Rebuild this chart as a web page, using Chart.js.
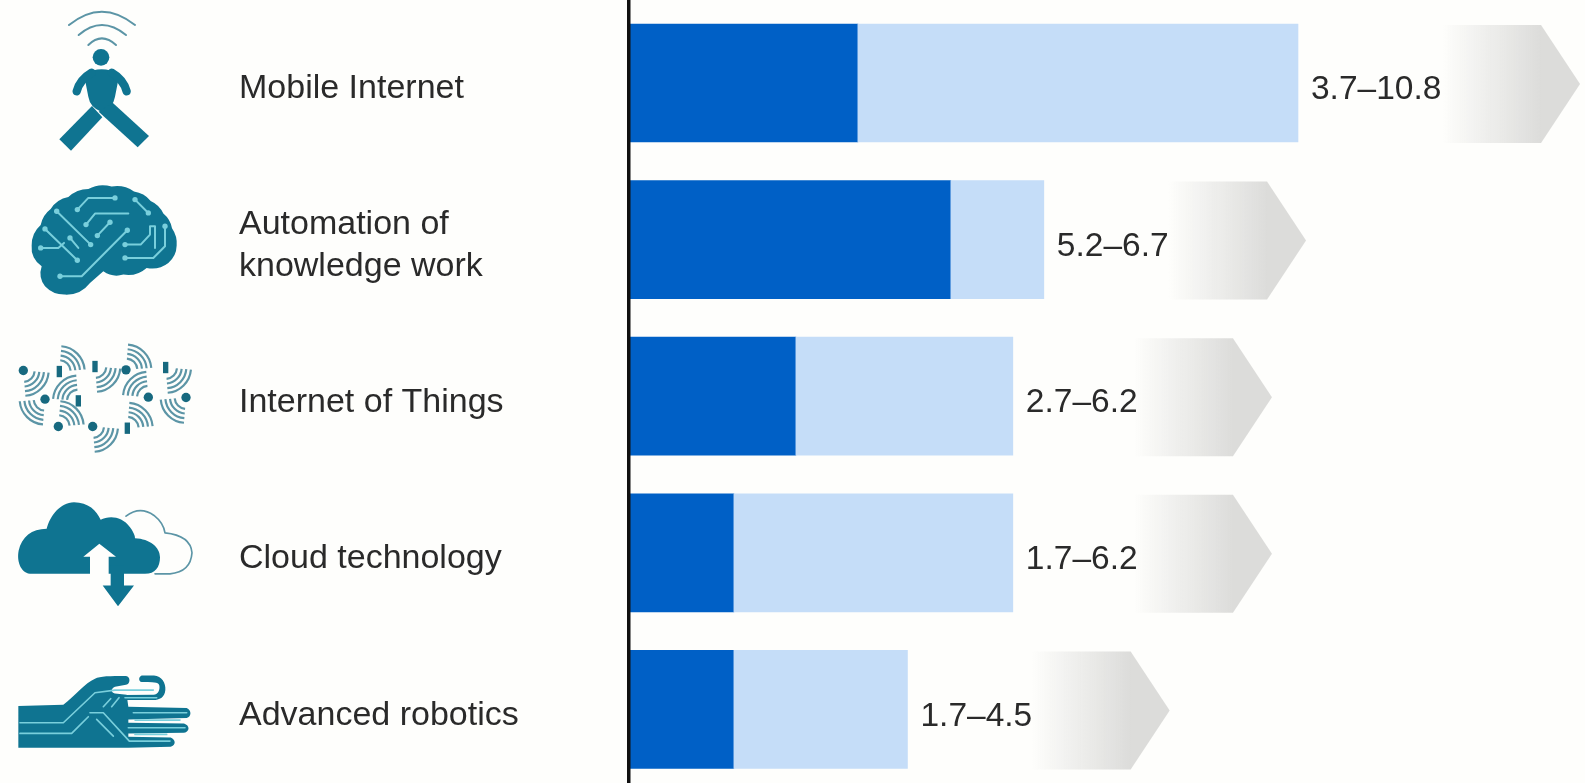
<!DOCTYPE html>
<html>
<head>
<meta charset="utf-8">
<style>
  html, body { margin: 0; padding: 0; background: #fefefc; overflow: hidden; }
  #wrap { position: relative; width: 1585px; height: 783px; }
</style>
<script src="https://cdn.jsdelivr.net/npm/chart.js@4/dist/chart.umd.min.js"></script>
</head>
<body>
<div id="wrap"><canvas id="chart" width="1585" height="783"></canvas></div>
<script>
// Estimated economic impact by technology: low and high end of each range.
const categories = ["Mobile Internet", "Automation of\nknowledge work", "Internet of Things", "Cloud technology", "Advanced robotics"];
const lowValues = [3.7, 5.2, 2.7, 1.7, 1.7];
const highValues = [10.8, 6.7, 6.2, 6.2, 4.5];
// Where each fading arrow's tip sits on the value axis.
const arrowTips = [15.35, 10.93, 10.38, 10.38, 8.73];

const TEAL = "#0f7491";
const CIRCUIT = "#79cfdc";
const THIN = "#5c95a6";
const TEXT = "#2a2a2a";
const FONT = "Liberation Sans";

// Icon artwork lives on a 3x grid; originY is the grid row of the bar's centre line.
function strokePath(ctx, d, color, width) {
  ctx.strokeStyle = color; ctx.lineWidth = width;
  ctx.lineCap = "round"; ctx.lineJoin = "round";
  ctx.stroke(new Path2D(d));
}
function fillPath(ctx, d, color) { ctx.fillStyle = color; ctx.fill(new Path2D(d)); }
function dot(ctx, x, y, r, color) {
  ctx.fillStyle = color; ctx.beginPath(); ctx.arc(x, y, r, 0, Math.PI * 2); ctx.fill();
}

function drawWalker(ctx) {
  strokePath(ctx, "M207 75Q305 -5 405 75", THIN, 6);
  strokePath(ctx, "M236 105Q305 45 378 105", THIN, 6);
  strokePath(ctx, "M265 135Q305 95 348 135", THIN, 6);
  dot(ctx, 303, 172, 25, TEAL);
  fillPath(ctx, "M252 224Q305 192 358 224L345 290Q340 322 305 336Q270 322 265 290Z", TEAL);
  strokePath(ctx, "M230 274Q240 238 275 218", TEAL, 25);
  strokePath(ctx, "M380 274Q370 238 335 218", TEAL, 25);
  fillPath(ctx, "M276 318L307 352L213 452L178 418Z", TEAL);
  fillPath(ctx, "M338 308L447 408L413 442L296 335Z", TEAL);
}

function drawBrain(ctx) {
  fillPath(ctx, "M95 738A80 80 0 0 1 122 676A80 80 0 0 1 152 628A80 80 0 0 1 205 592A90 90 0 0 1 265 568A90 90 0 0 1 335 561A90 90 0 0 1 402 576A80 80 0 0 1 452 604A75 75 0 0 1 490 642A75 75 0 0 1 516 686A80 80 0 0 1 530 738A70 70 0 0 1 505 790A80 80 0 0 1 440 805A85 85 0 0 1 370 825A70 70 0 0 1 310 815L270 850A90 90 0 0 1 195 885A80 80 0 0 1 135 860A65 65 0 0 1 125 800A65 65 0 0 1 95 738Z", TEAL);
  const lines = ["M232 630L265 595L345 595", "M405 600L445 640", "M170 635L272 735", "M258 675L285 642L385 642", "M292 708L330 668", "M135 688L232 782", "M210 715L235 745", "M122 745L175 745L192 730", "M180 830L245 830L382 692", "M375 735L422 735L450 705L450 680L465 680L465 745", "M495 680L495 740L460 775L375 775"];
  lines.forEach(d => strokePath(ctx, d, CIRCUIT, 6));
  [[232,630],[345,595],[405,600],[445,640],[170,635],[272,735],[258,675],[292,708],[330,668],[135,688],[232,782],[210,715],[122,745],[180,830],[382,692],[375,735],[375,775],[495,680]].forEach(p => dot(ctx, p[0], p[1], 8, CIRCUIT));
}

function fan(ctx, cx, cy, quadrant) {
  const start = quadrant * Math.PI / 2 + 0.08;
  const end = start + Math.PI / 2 - 0.16;
  ctx.strokeStyle = THIN; ctx.lineWidth = 6.5; ctx.lineCap = "butt";
  [34, 48, 62, 76].forEach(r => { ctx.beginPath(); ctx.arc(cx, cy, r, start, end); ctx.stroke(); });
}
function drawSensors(ctx) {
  // quadrant: 0 lower right, 1 lower left, 2 upper left, 3 upper right
  [[70,157,0],[135,243,1],[178,160,3],[235,248,2],[175,325,3],[285,145,0],[278,325,0],[378,155,3],[445,237,2],[382,330,3],[497,148,0],[558,238,1]].forEach(f => fan(ctx, f[0], f[1], f[2]));
  [[70,157],[135,243],[175,325],[278,325],[378,155],[445,237],[558,238]].forEach(p => dot(ctx, p[0], p[1], 14, "#17697f"));
  ctx.fillStyle = "#17697f";
  [[178,160],[235,248],[285,145],[382,330],[497,148]].forEach(p => ctx.fillRect(p[0] - 8, p[1] - 17, 16, 34));
}

function drawCloud(ctx) {
  strokePath(ctx, "M378 592Q420 560 462 590Q490 612 495 642Q572 650 576 702Q572 760 510 765L465 765", THIN, 5);
  fillPath(ctx, "M90 765C60 760 50 725 56 695C65 655 95 630 140 630C150 590 180 552 222 550C265 550 290 575 302 603C325 590 365 590 390 625C405 645 405 655 405 658C450 660 480 685 480 715C480 745 465 765 435 765Z", TEAL);
  fillPath(ctx, "M298 675L348 714L326 714L326 770L270 770L270 714L250 714Z", "#fefefc");
  fillPath(ctx, "M332 740L372 740L372 800L402 800L354 862L308 800L332 800Z", TEAL);
}

function drawHand(ctx) {
  fillPath(ctx, "M55 230L190 226C225 200 255 160 285 148C300 140 330 140 378 140C392 142 392 164 378 166L345 172C332 178 332 190 345 192L380 196L385 232L560 236C575 242 575 262 560 266L385 270L385 280L552 282C570 288 570 306 552 310L385 312L385 322L512 324C528 332 528 346 512 352L385 355L55 355Z", TEAL);
  fillPath(ctx, "M425 138L462 138C485 140 498 160 496 182C494 205 478 212 460 212L375 212L375 197L460 196C476 194 480 180 478 168C474 156 460 160 425 158C415 155 415 142 425 138Z", TEAL);
  ["M60 280L190 280L285 190L345 182L460 182", "M60 312L215 312L265 262", "M270 250L310 250L388 335L510 335", "M290 270L340 320", "M310 232L332 208", "M335 232L357 205", "M375 205L470 205", "M400 250L560 250", "M385 295L555 295", "M405 272L540 272", "M405 315L500 315"].forEach(d => strokePath(ctx, d, CIRCUIT, 5));
}

const icons = [
  { originY: 249, draw: drawWalker },
  { originY: 720, draw: drawBrain },
  { originY: 234, draw: drawSensors },
  { originY: 702, draw: drawCloud },
  { originY: 240, draw: drawHand }
];

const iconPlugin = {
  id: "rowIcons",
  afterDraw(chart) {
    const { ctx, scales: { y } } = chart;
    icons.forEach((icon, i) => {
      ctx.save();
      ctx.translate(0, y.getPixelForValue(i));
      ctx.scale(1 / 3, 1 / 3);
      ctx.translate(0, -icon.originY);
      icon.draw(ctx);
      ctx.restore();
    });
  }
};

// Fading pentagon arrows behind each bar's range label.
const arrowPlugin = {
  id: "fadeArrows",
  beforeDatasetsDraw(chart) {
    const { ctx, scales: { x, y } } = chart;
    arrowTips.forEach((tip, i) => {
      const tipX = x.getPixelForValue(tip);
      const midY = y.getPixelForValue(i) + 1;
      const half = 59, shoulder = tipX - 39, tail = tipX - 138;
      const g = ctx.createLinearGradient(tail, 0, shoulder, 0);
      g.addColorStop(0, "rgba(220,220,218,0)");
      g.addColorStop(1, "rgba(220,220,218,1)");
      ctx.fillStyle = g;
      ctx.beginPath();
      ctx.moveTo(tail, midY - half);
      ctx.lineTo(shoulder, midY - half);
      ctx.lineTo(tipX, midY);
      ctx.lineTo(shoulder, midY + half);
      ctx.lineTo(tail, midY + half);
      ctx.closePath();
      ctx.fill();
    });
  }
};

// Range text just past the end of each light bar.
const rangePlugin = {
  id: "rangeLabels",
  afterDatasetsDraw(chart) {
    const { ctx, scales: { x, y } } = chart;
    ctx.save();
    ctx.font = "33.5px '" + FONT + "'";
    ctx.fillStyle = TEXT;
    ctx.textAlign = "left";
    ctx.textBaseline = "middle";
    categories.forEach((_, i) => {
      const text = lowValues[i].toFixed(1) + "–" + highValues[i].toFixed(1);
      ctx.fillText(text, x.getPixelForValue(highValues[i]) + 13, y.getPixelForValue(i) + 7);
    });
    ctx.restore();
  }
};

new Chart(document.getElementById("chart"), {
  type: "bar",
  data: {
    datasets: [
      {
        label: "High end",
        data: categories.map((_, i) => ({ x: [lowValues[i], highValues[i]], y: i })),
        backgroundColor: "#c5ddf8",
        barThickness: 118,
        borderWidth: 0,
        grouped: false
      },
      {
        label: "Low end",
        data: categories.map((_, i) => ({ x: [0, lowValues[i]], y: i })),
        backgroundColor: "#0060c6",
        barThickness: 118,
        borderWidth: 0,
        grouped: false
      }
    ]
  },
  plugins: [arrowPlugin, rangePlugin, iconPlugin],
  options: {
    indexAxis: "y",
    responsive: false,
    animation: false,
    layout: { padding: { left: 239, right: 0, top: 0, bottom: 0 } },
    plugins: { legend: { display: false }, tooltip: { enabled: false } },
    scales: {
      x: { type: "linear", display: false, min: 0, max: 15.43 },
      y: {
        type: "linear",
        position: "left",
        reverse: true,
        offset: false,
        bounds: "data",
        min: -0.53,
        max: 4.47,
        afterBuildTicks(scale) { scale.ticks = categories.map((_, i) => ({ value: i })); },
        afterFit(scale) { scale.width = 389.5; scale.paddingTop = 0; scale.paddingBottom = 0; },
        grid: { display: false, drawTicks: false },
        border: { display: true, color: "#101010", width: 3.5, z: 1 },
        ticks: {
          autoSkip: false,
          maxRotation: 0,
          padding: 0,
          crossAlign: "far",
          labelOffset: 6,
          color: TEXT,
          font: { family: FONT, size: 34, lineHeight: 1.24 },
          callback: v => categories[v] !== undefined ? categories[v].split("\n") : ""
        }
      }
    }
  }
});
</script>
</body>
</html>
